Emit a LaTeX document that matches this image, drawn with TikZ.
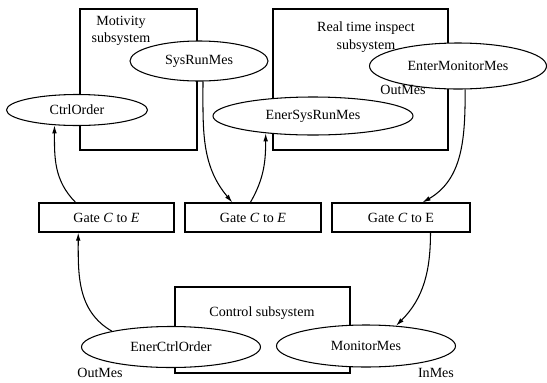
\documentclass[tikz,border=0pt]{standalone}
\usepackage{fontspec}
\setmainfont{Liberation Serif}
\usetikzlibrary{shapes.geometric,arrows.meta}

\begin{document}
\begin{tikzpicture}
[x=0.03cm,y=-0.03cm,
  every node/.style={inner sep=1pt,font=\fontsize{12}{15}\selectfont},%
  subBox/.style={draw,line width=0.9pt,rectangle},%
  gateBox/.style={draw,line width=0.9pt,rectangle,minimum height=0.87cm},%
  msgEllipse/.style={draw,line width=0.9pt,ellipse,fill=white,inner sep=0pt},%
  arrowDecorate/.style={-{Latex[length=7pt,width=4pt]},line width=0.9pt}]
\useasboundingbox (0,0) rectangle (547,382);
% subsystems
\node[subBox,minimum width=3.51cm,minimum height=4.23cm] (motivityBox) at (138.5,79.5) {};
\node[subBox,minimum width=5.25cm,minimum height=4.23cm] (realTimeBox) at (360.5,79.5) {};
\node[subBox,minimum width=5.25cm,minimum height=2.58cm] (controlBox) at (262.5,330) {};
\node[align=center] (motivityText) at (121,31) {Motivity\\subsystem};
\node[align=center] (realTimeText) at (366,37) {Real time inspect\\subsystem};
\node (controlText) at (262,313) {Control subsystem};
% messages
\node[msgEllipse,minimum width=4.14cm,minimum height=1.2cm] (sysRunMes) at (199,61) {SysRunMes};
\node[msgEllipse,minimum width=4.23cm,minimum height=0.93cm] (ctrlOrder) at (77,110) {CtrlOrder};
\node[msgEllipse,minimum width=6cm,minimum height=1.14cm] (enerSysRunMes) at (313,116) {EnerSysRunMes};
\node[msgEllipse,minimum width=5.31cm,minimum height=1.38cm] (enterMonitorMes) at (458,66) {EnterMonitorMes};
\node[msgEllipse,minimum width=5.37cm,minimum height=1.23cm] (enerCtrlOrder) at (171,347) {EnerCtrlOrder};
\node[msgEllipse,minimum width=5.37cm,minimum height=1.26cm] (monitorMes) at (366,346) {MonitorMes};
\node (outMesTop) at (403,90) {OutMes};
\node (outMesBottom) at (100,373) {OutMes};
\node (inMes) at (436,373) {InMes};
% gates
\node[gateBox,minimum width=4.05cm] (gateA) at (106.5,217.5) {Gate \textit{C} to \textit{E}};
\node[gateBox,minimum width=4.08cm] (gateB) at (253,217.5) {Gate \textit{C} to \textit{E}};
\node[gateBox,minimum width=4.14cm] (gateC) at (401,217.5) {Gate \textit{C} to E};
\path
\foreach \startNode/\endNode/\outAng/\inAng in {
  gateA.154/ctrlOrder.214/135/-90, sysRunMes.-79/gateB.144/-90/130,
  gateB.100/enerSysRunMes.200/60/-90, enterMonitorMes.-73/gateC.35/-90/30,
  enerCtrlOrder.165/gateA.208/150/-90, gateC.-27/monitorMes.34/-90/45}
{
  (\startNode) edge[arrowDecorate,out=\outAng,in=\inAng] (\endNode)
};
\end{tikzpicture}
\end{document}
